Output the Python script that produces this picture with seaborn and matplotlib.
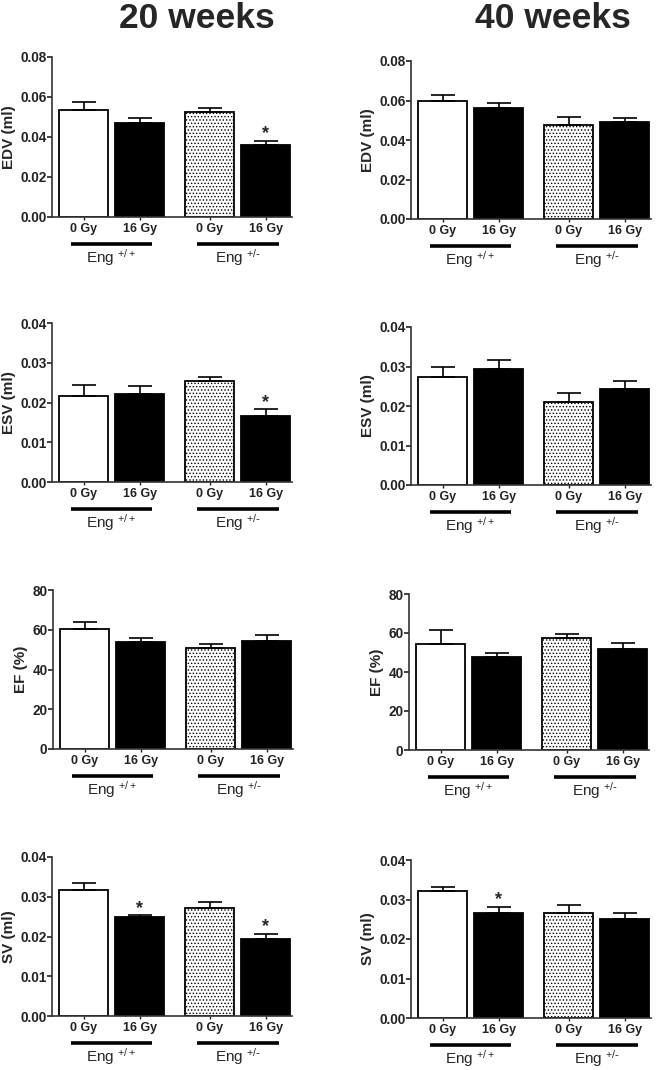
import numpy as np
import pandas as pd
import seaborn as sns
import matplotlib.pyplot as plt
from matplotlib.ticker import FormatStrFormatter

# data (mean and SEM)
doses = ["0 Gy", "16 Gy", "0 Gy", "16 Gy"]
conditions = ["wt_0", "wt_16", "het_0", "het_16"]
genotypes = [r"Eng $^{+/+}$", r"Eng $^{+/\text{-}}$"]
positions = [0.0, 1.0, 2.25, 3.25]

edv_20 = [0.0536, 0.0472, 0.0526, 0.0360]
edv_20_sem = [0.0041, 0.0023, 0.0021, 0.0020]
edv_20_star = [False, False, False, True]
edv_40 = [0.0598, 0.0560, 0.0476, 0.0489]
edv_40_sem = [0.0030, 0.0027, 0.0038, 0.0022]
edv_40_star = [False, False, False, False]

esv_20 = [0.0217, 0.0222, 0.0255, 0.0165]
esv_20_sem = [0.0028, 0.0020, 0.0009, 0.0018]
esv_20_star = [False, False, False, True]
esv_40 = [0.0274, 0.0293, 0.0209, 0.0242]
esv_40_sem = [0.0026, 0.0024, 0.0025, 0.0022]
esv_40_star = [False, False, False, False]

ef_20 = [60.3, 53.6, 51.0, 54.1]
ef_20_sem = [3.8, 2.0, 1.9, 3.5]
ef_20_star = [False, False, False, False]
ef_40 = [54.2, 47.7, 57.3, 51.6]
ef_40_sem = [7.2, 2.0, 2.2, 3.3]
ef_40_star = [False, False, False, False]

sv_20 = [0.0316, 0.0248, 0.0272, 0.0193]
sv_20_sem = [0.0019, 0.0005, 0.0016, 0.0014]
sv_20_star = [False, True, False, True]
sv_40 = [0.0322, 0.0267, 0.0267, 0.0250]
sv_40_sem = [0.0009, 0.0014, 0.0018, 0.0015]
sv_40_star = [False, True, False, False]

ml_ticks_08 = [0, 0.02, 0.04, 0.06, 0.08]
ml_ticks_04 = [0, 0.01, 0.02, 0.03, 0.04]
ef_ticks = [0, 20, 40, 60, 80]

sns.set_style("ticks")
plt.rcParams["font.family"] = ["Liberation Sans", "DejaVu Sans"]
plt.rcParams["mathtext.default"] = "regular"
plt.rcParams["hatch.linewidth"] = 0.6

fig = plt.figure(figsize=(6.56, 10.70), dpi=100)
W, H = 656, 1070

# (left px, top px, bottom px) for each panel
rects = {
    (0, 0): (52, 57, 217), (0, 1): (411, 61, 219),
    (1, 0): (52, 323, 482), (1, 1): (411, 327, 485),
    (2, 0): (53, 590, 749), (2, 1): (409, 594, 750),
    (3, 0): (52, 857, 1016), (3, 1): (411, 860, 1018),
}

panels = [
    [(edv_20, edv_20_sem, edv_20_star), (edv_40, edv_40_sem, edv_40_star), "EDV (ml)", ml_ticks_08, "%.2f"],
    [(esv_20, esv_20_sem, esv_20_star), (esv_40, esv_40_sem, esv_40_star), "ESV (ml)", ml_ticks_04, "%.2f"],
    [(ef_20, ef_20_sem, ef_20_star), (ef_40, ef_40_sem, ef_40_star), "EF (%)", ef_ticks, "%d"],
    [(sv_20, sv_20_sem, sv_20_star), (sv_40, sv_40_sem, sv_40_star), "SV (ml)", ml_ticks_04, "%.2f"],
]

palette = {"wt_0": "white", "wt_16": "black", "het_0": "white", "het_16": "black"}

for r, (d20, d40, ylab, ticks, fmt) in enumerate(panels):
    for c, (vals, sem, stars) in enumerate([d20, d40]):
        left, top, bottom = rects[(r, c)]
        ax = fig.add_axes([left / W, 1 - bottom / H, 240 / W, (bottom - top) / H])
        df = pd.DataFrame({"pos": positions, "value": vals, "cond": conditions})
        sns.barplot(data=df, x="pos", y="value", hue="cond", palette=palette,
                    native_scale=True, dodge=False, width=0.875, errorbar=None,
                    legend=False, edgecolor="black", linewidth=1.3, ax=ax)
        for p in ax.containers[2]:
            p.set_hatch(".....")
        ax.errorbar(positions, vals, yerr=[np.zeros(len(sem)), sem], fmt="none",
                    ecolor="black", elinewidth=1.2, capsize=8.5, capthick=1.2, zorder=1)
        for x, v, s, st in zip(positions, vals, sem, stars):
            if st:
                ax.annotate("*", xy=(x, v + s), xytext=(0, -1), textcoords="offset points",
                            ha="center", va="bottom", fontsize=13, fontweight="bold")
        ax.set_xlim(-0.5625, 3.72)
        ax.set_ylim(ticks[0], ticks[-1])
        ax.set_yticks(ticks)
        ax.yaxis.set_major_formatter(FormatStrFormatter(fmt))
        ax.set_xticks(positions)
        ax.set_xticklabels(doses, fontweight="bold", fontsize=9)
        ax.tick_params(axis="x", length=2.5, width=1.0, pad=2, colors="#222")
        ax.tick_params(axis="y", length=3.5, width=1.2, labelsize=9.8, pad=0.5, colors="#222")
        for lab in ax.get_yticklabels():
            lab.set_fontweight("bold")
        ax.set_xlabel("")
        ax.set_ylabel(ylab, fontweight="bold", fontsize=11, labelpad=3)
        for sp in ["top", "right"]:
            ax.spines[sp].set_visible(False)
        for sp in ["left", "bottom"]:
            ax.spines[sp].set_linewidth(1.2)
            ax.spines[sp].set_color("#333")
        trans = ax.get_xaxis_transform()
        h = bottom - top
        for g, gname in enumerate(genotypes):
            x0, x1 = positions[2 * g], positions[2 * g + 1]
            mid = (x0 + x1) / 2
            ax.plot([mid - 0.73, mid + 0.73], [-27 / h, -27 / h], transform=trans,
                    color="black", lw=2.6, solid_capstyle="butt", clip_on=False)
            ax.text(mid, -41 / h, gname, transform=trans, ha="center", va="center",
                    fontsize=11)

fig.text(197 / W, 1 - 19 / H, "20 weeks", ha="center", va="center",
         fontsize=25.5, fontweight="bold")
fig.text(553 / W, 1 - 19 / H, "40 weeks", ha="center", va="center",
         fontsize=25.5, fontweight="bold")

fig.savefig("out.png", dpi=100)
